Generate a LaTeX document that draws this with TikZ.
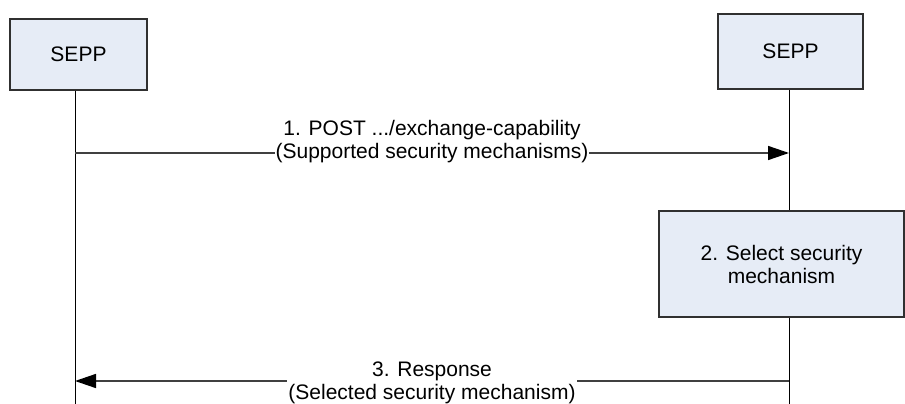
\documentclass[tikz,border=0pt]{standalone}
\usepackage{fontspec}
\setmainfont{Liberation Sans}
\usetikzlibrary{arrows.meta}
\definecolor{boxfill}{HTML}{E6ECF6}
\definecolor{boxline}{HTML}{303030}
\definecolor{msgline}{HTML}{404040}
\begin{document}
\begin{tikzpicture}[x=1pt,y=-1pt,
  every node/.style={font=\fontsize{21}{23}\selectfont},
  entity/.style={draw=boxline, fill=boxfill, line width=1.2pt, inner sep=0pt, align=center},
  lifeline/.style={line width=1pt, black},
  msg/.style={line width=1.5pt, msgline, -{Triangle[length=21pt,width=14pt,color=black]}},
  msglabel/.style={fill=white, inner sep=1pt, align=center}]
\useasboundingbox (0,0) rectangle (905,404);
\node[entity, minimum width=137pt, minimum height=71pt] (lbox) at (78.5,54.5) {SEPP};
\node[entity, minimum width=145pt, minimum height=75pt] (rbox) at (790.5,51.5) {SEPP};
\node[entity, minimum width=245pt, minimum height=106pt] (sel) at (781.5,264) {2. Select security\\mechanism};
\coordinate (ll) at (75,404);
\coordinate (rl) at (789,404);
\draw[lifeline] (lbox.south -| ll) -- (ll);
\draw[lifeline] (rbox.south -| rl) -- (sel.north -| rl);
\draw[lifeline] (sel.south -| rl) -- (rl);
\coordinate (m1s) at (75,153);
\coordinate (m1e) at (789,153);
\draw[msg] (m1s) -- (m1e);
\node[msglabel] (l1) at (432,142) {1. POST .../exchange-capability\\(Supported security mechanisms)};
\coordinate (m3s) at (789,381);
\coordinate (m3e) at (75,381);
\draw[msg] (m3s) -- (m3e);
\node[msglabel] (l3) at (432,383) {3. Response\\(Selected security mechanism)};
\end{tikzpicture}
\end{document}
